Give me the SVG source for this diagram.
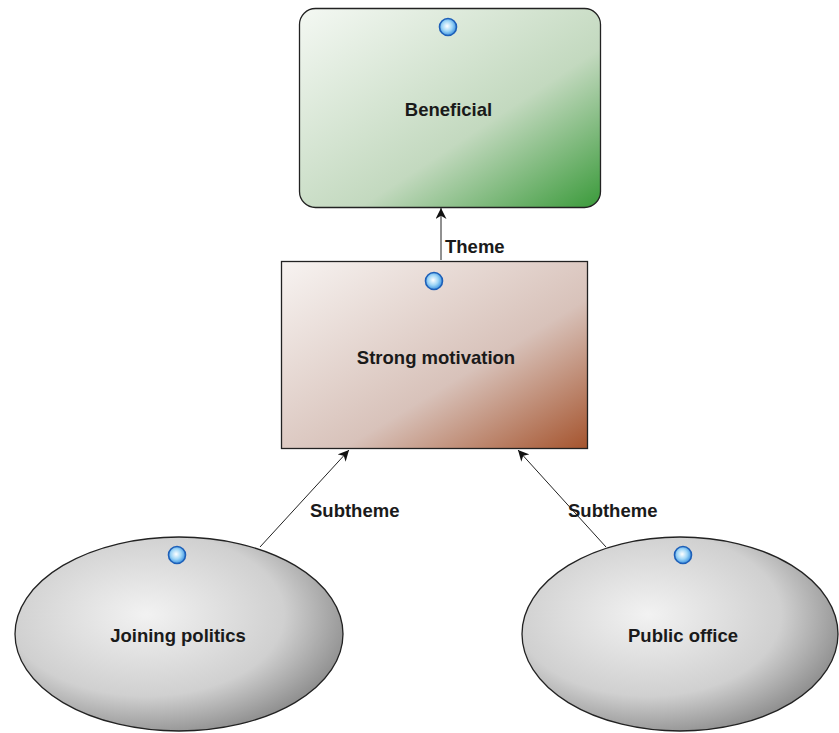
<svg xmlns="http://www.w3.org/2000/svg" width="839" height="733" viewBox="0 0 839 733">
<style>
text{font-family:"Liberation Sans",Arial,sans-serif;font-weight:bold;fill:#1a1a1a;text-anchor:middle}
.node{font-size:18.5px}
.lbl{font-size:18.5px;text-anchor:start}
.edge{stroke:#222;stroke-width:1;fill:none;marker-end:url(#arr)}
.shape{stroke:#222;stroke-width:1.3}
.dot{fill:url(#gDot);stroke:#1d5fb8;stroke-width:1.6}
</style>
<defs>
<linearGradient id="gGreen" x1="0" y1="0" x2="1" y2="1">
<stop offset="0" stop-color="#f4f8f3"/>
<stop offset="0.6" stop-color="#c3d9bf"/>
<stop offset="1" stop-color="#3a9a3a"/>
</linearGradient>
<linearGradient id="gBrown" x1="0" y1="0" x2="1" y2="1">
<stop offset="0" stop-color="#f7f3f1"/>
<stop offset="0.6" stop-color="#d8c2ba"/>
<stop offset="1" stop-color="#a5542e"/>
</linearGradient>
<radialGradient id="gGray" cx="0.4" cy="0.4" r="0.7">
<stop offset="0" stop-color="#f2f2f2"/>
<stop offset="0.6" stop-color="#d0d0d0"/>
<stop offset="1" stop-color="#7d7d7d"/>
</radialGradient>
<radialGradient id="gDot" cx="0.45" cy="0.45" r="0.6">
<stop offset="0" stop-color="#ffffff"/>
<stop offset="0.5" stop-color="#9fd6f7"/>
<stop offset="1" stop-color="#2a86dc"/>
</radialGradient>
<marker id="arr" viewBox="0 0 10 10" refX="10" refY="5" markerWidth="11" markerHeight="11" markerUnits="userSpaceOnUse" orient="auto">
<path d="M0,0 L10,5 L0,10 L3,5 Z" fill="#111"/>
</marker>
</defs>
<g id="connectors">
<line class="edge" x1="441" y1="260" x2="441" y2="208"/>
<text class="lbl" x="445" y="253">Theme</text>
<line class="edge" x1="260" y1="547" x2="349" y2="450"/>
<text class="lbl" x="310" y="517">Subtheme</text>
<line class="edge" x1="606" y1="547" x2="518" y2="450"/>
<text class="lbl" x="568" y="517">Subtheme</text>
</g>
<g id="beneficial">
<rect class="shape" x="299.5" y="8.5" width="301" height="199" rx="16" fill="url(#gGreen)"/>
<circle class="dot" cx="448" cy="27" r="8.5"/>
<text class="node" x="448.5" y="116">Beneficial</text>
</g>
<g id="strong-motivation">
<rect class="shape" x="281.5" y="261.5" width="306" height="187" fill="url(#gBrown)"/>
<circle class="dot" cx="434" cy="281" r="8.5"/>
<text class="node" x="436" y="364">Strong motivation</text>
</g>
<g id="joining-politics">
<ellipse class="shape" cx="179" cy="634" rx="164" ry="97" fill="url(#gGray)"/>
<circle class="dot" cx="177" cy="555" r="8.5"/>
<text class="node" x="178" y="642">Joining politics</text>
</g>
<g id="public-office">
<ellipse class="shape" cx="680" cy="634" rx="158" ry="97" fill="url(#gGray)"/>
<circle class="dot" cx="683" cy="555" r="8.5"/>
<text class="node" x="683" y="642">Public office</text>
</g>
</svg>
